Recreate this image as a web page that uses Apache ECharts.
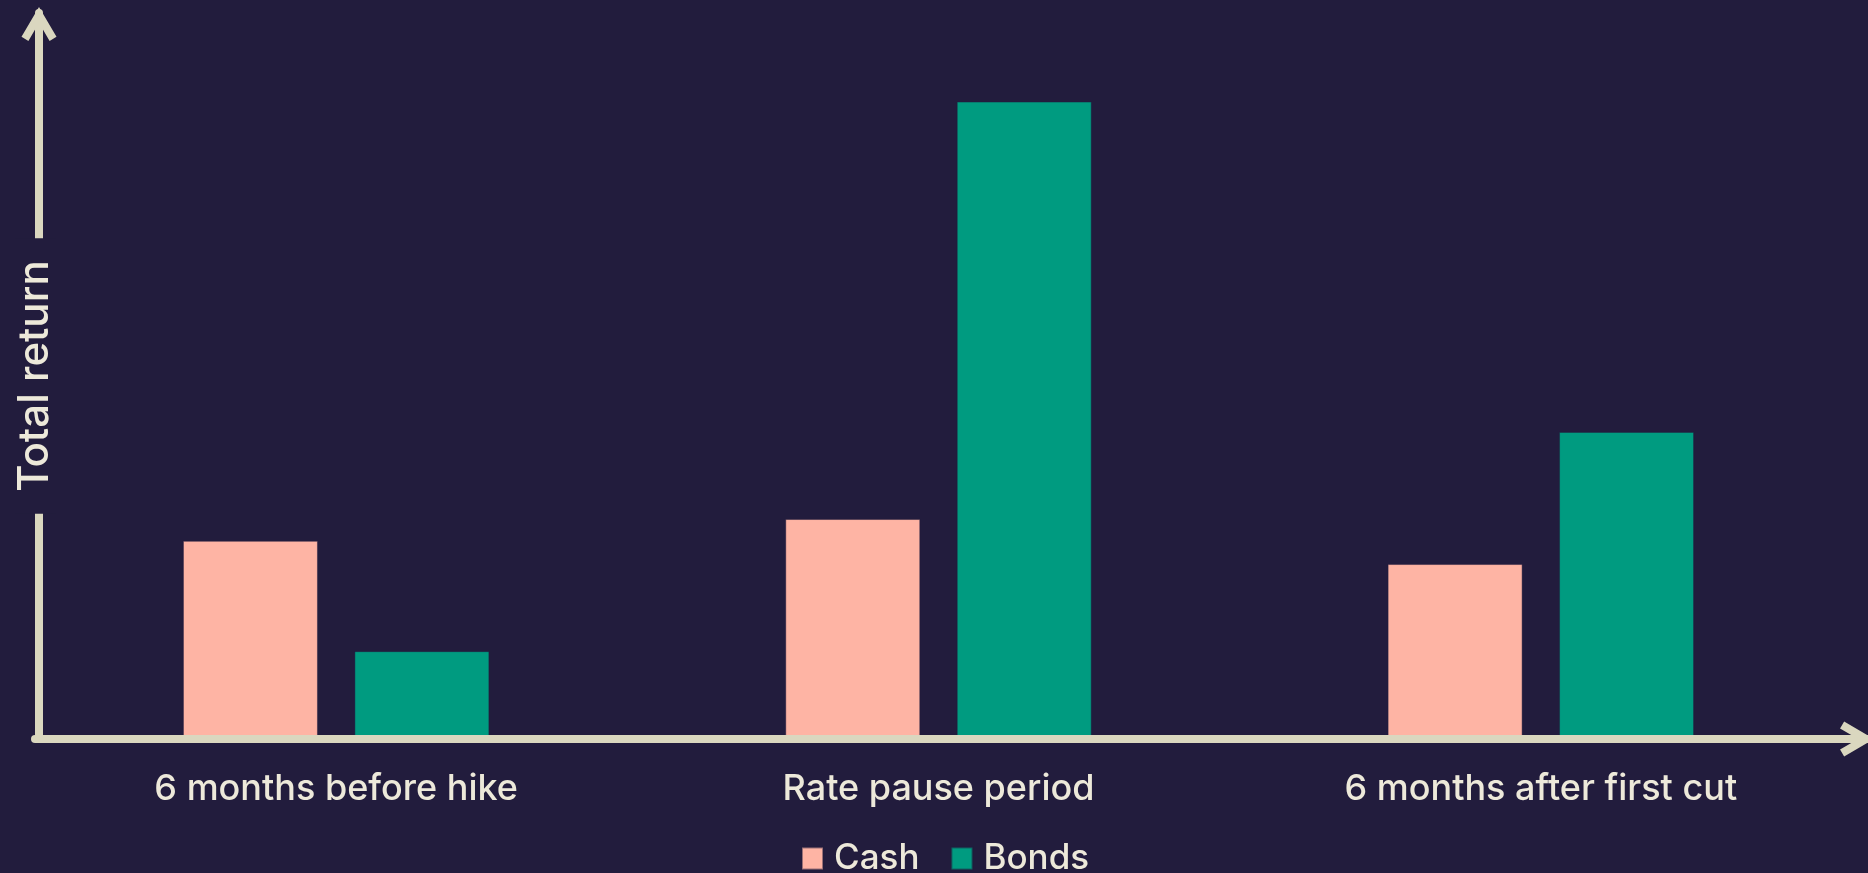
<!DOCTYPE html>
<html>
<head>
<meta charset="utf-8">
<script src="https://cdn.jsdelivr.net/npm/echarts@6/dist/echarts.min.js"></script>
<style>
  html, body { margin: 0; padding: 0; background: #221c3d; }
  #chart { width: 1868px; height: 873px; }
</style>
</head>
<body>
<div id="chart"></div>
<script>
// categories and series values (relative total return)
const categories = ['6 months before hike', 'Rate pause period', '6 months after first cut']
const cashValues = [27.3, 30.3, 24.1]
const bondValues = [12.1, 87.8, 42.3]

const axisColor = '#dad7bf'
const textColor = '#ede9da'
// open chevron used as arrow head on both axes
const chevron = 'path://M17.5 0 L35 29.8 L28.1 33.9 L17.5 15.8 L6.9 33.9 L0 29.8 Z'

const chart = echarts.init(document.getElementById('chart'))

chart.setOption({
  backgroundColor: '#221c3d',
  textStyle: { fontFamily: 'Inter', fontWeight: 500 },
  animation: false,
  legend: {
    data: ['Cash', 'Bonds'],
    left: 796,
    top: 836,
    icon: 'rect',
    itemWidth: 21,
    itemHeight: 22,
    itemGap: 31,
    textStyle: { color: textColor, fontSize: 35, fontWeight: 500, padding: [0, 0, 0, 6] }
  },
  grid: [
    { left: 35, width: 1807, top: 13, bottom: 134 },
    { left: 35, width: 1835, top: 13, bottom: 134 }
  ],
  xAxis: [{
    type: 'category',
    gridIndex: 0,
    data: categories,
    axisLine: { show: false },
    axisTick: { show: false },
    axisLabel: { color: textColor, fontSize: 36, fontWeight: 500, margin: 32 }
  }, {
    // only draws the arrowed baseline
    type: 'value',
    gridIndex: 1,
    min: 0,
    max: 1,
    z: 10,
    axisLine: {
      show: true,
      symbol: ['none', chevron],
      symbolSize: [35, 34],
      symbolOffset: [0, -11],
      lineStyle: { color: axisColor, width: 8 }
    },
    axisTick: { show: false },
    axisLabel: { show: false },
    splitLine: { show: false }
  }],
  yAxis: [{
    type: 'value',
    gridIndex: 0,
    min: 0,
    max: 100,
    offset: -4,
    axisLine: {
      show: true,
      symbol: ['none', chevron],
      symbolSize: [35, 34],
      symbolOffset: [0, -11],
      lineStyle: { color: axisColor, width: 8 }
    },
    axisTick: { show: false },
    axisLabel: { show: false },
    splitLine: { show: false }
  }, {
    // carries the axis title, its background cuts the gap in the line
    type: 'value',
    gridIndex: 1,
    min: 0,
    max: 100,
    offset: -4,
    z: 20,
    name: 'Total return',
    nameLocation: 'middle',
    nameRotate: 90,
    nameGap: -17,
    nameTextStyle: {
      color: textColor,
      fontSize: 42,
      fontWeight: 500,
      lineHeight: 41,
      backgroundColor: '#221c3d',
      padding: [0, 22]
    },
    axisLine: { show: false },
    axisTick: { show: false },
    axisLabel: { show: false },
    splitLine: { show: false }
  }],
  series: [{
    name: 'Cash',
    type: 'bar',
    data: cashValues,
    barWidth: 135,
    barGap: '27%',
    itemStyle: { color: '#feb4a4', borderColor: 'rgba(34,28,61,0.45)', borderWidth: 1 }
  }, {
    name: 'Bonds',
    type: 'bar',
    data: bondValues,
    barWidth: 135,
    itemStyle: { color: '#009b80', borderColor: 'rgba(34,28,61,0.45)', borderWidth: 1 }
  }]
})
</script>
</body>
</html>
